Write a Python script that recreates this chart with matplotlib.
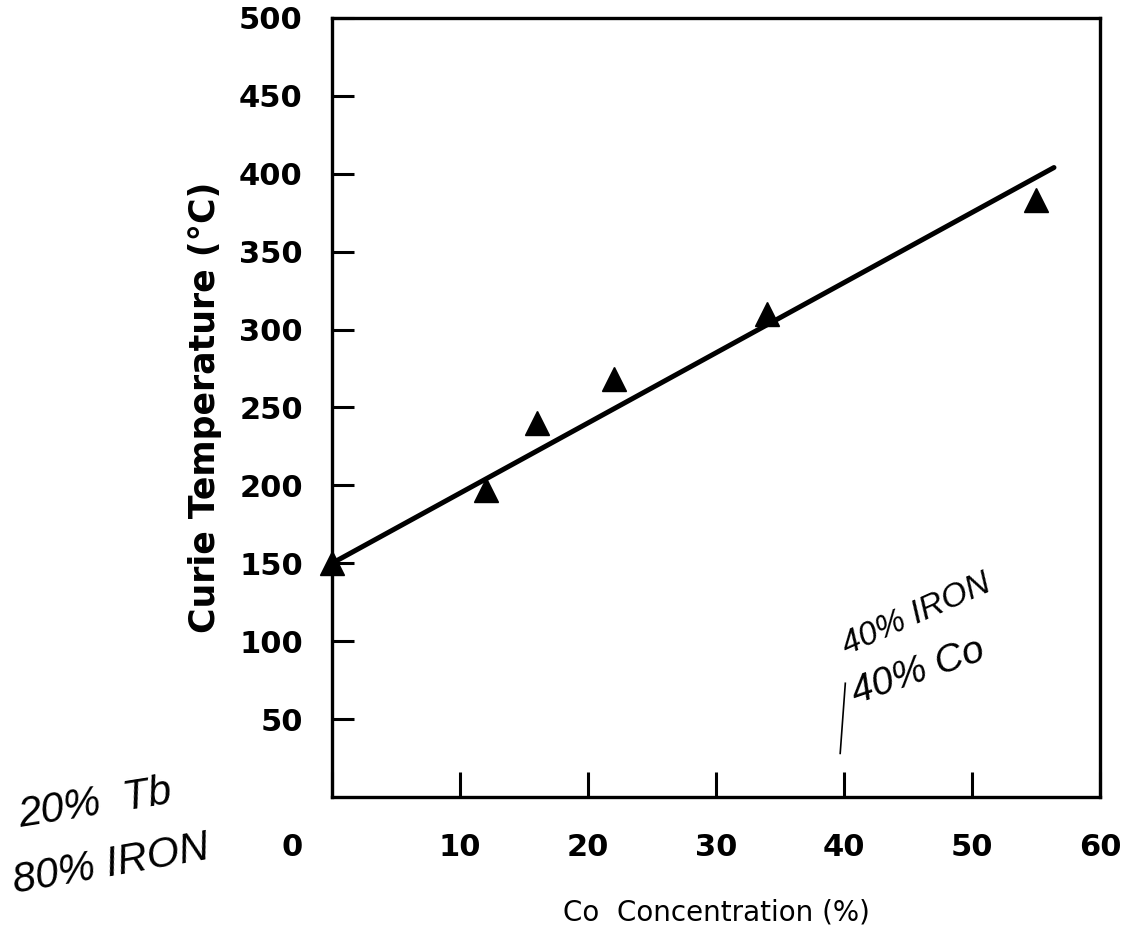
import matplotlib
matplotlib.use("Agg")
import matplotlib.pyplot as plt
from matplotlib.transforms import ScaledTranslation

# Measured Curie temperatures vs. cobalt content
co_conc = [0, 12, 16, 22, 34, 55]
curie_temp = [150, 197, 240, 268, 310, 383]

# Linear trend drawn through the data
fit_x = [0, 56.4]
fit_y = [150, 404]

x_ticks = [0, 10, 20, 30, 40, 50, 60]
y_ticks = [50, 100, 150, 200, 250, 300, 350, 400, 450, 500]

plt.rcParams['font.family'] = ['DejaVu Sans']

fig = plt.figure(figsize=(11.3, 9.4), dpi=100)
ax = fig.add_axes([0.2938, 0.1521, 0.6797, 0.8288])

ax.plot(fit_x, fit_y, color='black', lw=3.6, solid_capstyle='round', zorder=3)
ax.plot(co_conc, curie_temp, linestyle='none', marker='^', markersize=17,
        color='black', clip_on=False, zorder=4)

ax.set_xlim(0, 60)
ax.set_ylim(0, 500)

ax.set_xticks(x_ticks)
ax.set_xticklabels([str(v) for v in x_ticks])
ax.set_yticks(y_ticks)
ax.set_yticklabels([str(v) for v in y_ticks])

for s in ax.spines.values():
    s.set_linewidth(2.4)

ax.tick_params(axis='x', direction='in', length=18, width=2.2, pad=26,
               labelsize=22)
ax.tick_params(axis='y', direction='in', length=16, width=2.2, pad=21,
               labelsize=22)
for lab in ax.get_xticklabels() + ax.get_yticklabels():
    lab.set_fontweight('bold')

# the zero label sits a little left of the origin
zero_lab = ax.get_xticklabels()[0]
zero_lab.set_transform(zero_lab.get_transform()
                       + ScaledTranslation(-0.40, 0, fig.dpi_scale_trans))

ax.set_xlabel('Co  Concentration (%)', fontsize=20, labelpad=26)
ax.set_ylabel('Curie Temperature (°C)', fontsize=25, fontweight='bold',
              labelpad=12)

# Handwritten notes
hand = dict(family=['Liberation Sans', 'DejaVu Sans'], style='italic',
            color='black', ha='left', va='baseline', rotation_mode='anchor')
fig.text(20 / 1130, 1 - 827 / 940, '20%  Tb', fontsize=30, rotation=9, **hand)
fig.text(15 / 1130, 1 - 893 / 940, '80% IRON', fontsize=30, rotation=10, **hand)
ax.text(40.2, 91, '40% IRON', fontsize=24, rotation=24, **hand)
ax.text(40.9, 60, '40% Co', fontsize=28, rotation=19, **hand)
ax.plot([40.1, 39.7], [73, 28], color='black', lw=1.2)

fig.savefig('out.png', dpi=100)
